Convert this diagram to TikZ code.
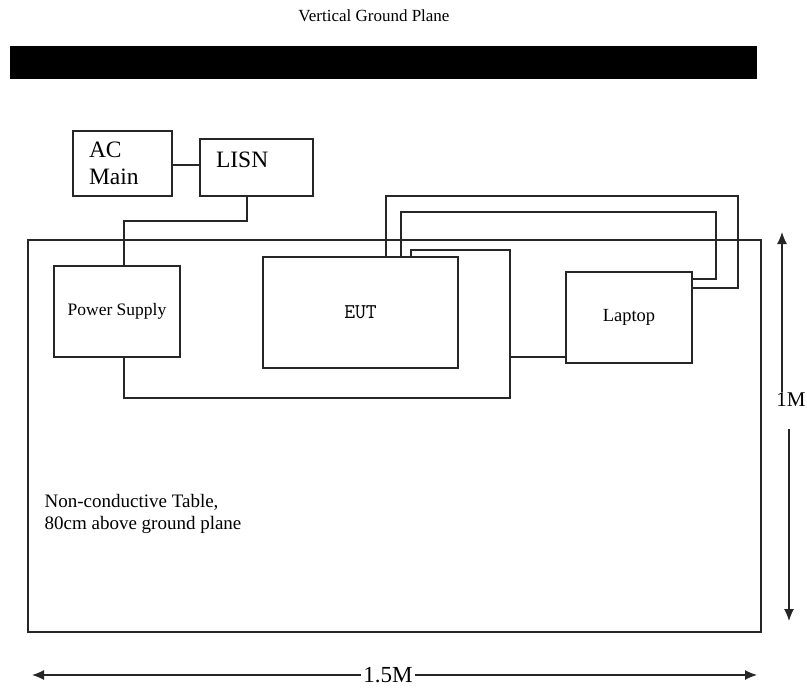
\documentclass[tikz,border=0pt]{standalone}
\usepackage{fontspec}
\setmainfont{Liberation Serif}
\usetikzlibrary{arrows.meta}

\begin{document}
\begin{tikzpicture}[x=1pt,y=-1pt,line width=1.2pt,draw=black!85,
  box/.style={rectangle,draw,inner sep=0pt},
  dimline/.style={-{Latex[length=12pt,width=10pt]}}]
\useasboundingbox (0,0) rectangle (807,688);
\coordinate (C1) at (738,196);
\coordinate (C2) at (716,212);
\coordinate (C3) at (510,398);
\coordinate (C4) at (510,250);
\coordinate (C5) at (510,357);
\coordinate (C6) at (124,221);
\coordinate (C7) at (172,165);
\coordinate (D1) at (782,232);
\coordinate (D2) at (789,621);
\coordinate (D3) at (32,675);
\coordinate (D4) at (757,675);


\node[font=\fontsize{17}{20}\selectfont] (title) at (374,16) {Vertical Ground Plane};
\node[fill=black,minimum width=747pt,minimum height=33pt,inner sep=0pt] (gp) at (383.5,62.5) {};
\node[box,minimum width=733pt,minimum height=392pt] (table) at (394.5,436) {};
\node[box,minimum width=99pt,minimum height=65pt,text width=67pt,align=left,font=\fontsize{23.5}{27}\selectfont] (acmain) at (122.5,163.5) {AC\\Main};
\node[box,minimum width=113pt,minimum height=57pt,text width=81pt,align=left,text depth=15pt,font=\fontsize{23.5}{27}\selectfont] (lisn) at (256.5,167.5) {LISN};
\node[box,minimum width=126pt,minimum height=91pt,font=\fontsize{17.5}{20}\selectfont] (psu) at (117,311.5) {Power Supply};
\node[box,minimum width=195pt,minimum height=111pt,font=\ttfamily\fontsize{21}{24}\selectfont] (eut) at (360.5,312.5) {EUT};
\node[box,minimum width=126pt,minimum height=91pt,font=\fontsize{18.5}{20}\selectfont] (laptop) at (629,317.5) {Laptop};
\node[anchor=west,align=left,inner sep=0pt,font=\fontsize{19}{22}\selectfont] (tabletext) at (44,514) {Non-conductive Table,\\80cm above ground plane};
\node[inner sep=0pt,font=\fontsize{21}{24}\selectfont] (onem) at (791,400) {1M};
\node[inner sep=2pt,font=\fontsize{23}{26}\selectfont] (onefive) at (388,675) {1.5M};

\draw (C7 -| acmain.east) -- (C7 -| lisn.west);
\draw ([xshift=-9.5pt]lisn.south) |- (C6) -- ([xshift=7pt]psu.north);
\draw ([xshift=7pt]psu.south) |- (C3) -- (C4) -| ([xshift=50.5pt]eut.north);
\draw (C5) -- (C5 -| laptop.west);
\draw ([xshift=25.5pt]eut.north) |- (C1) |- ([yshift=29.5pt]laptop.east);
\draw ([xshift=40.5pt]eut.north) |- (C2) |- ([yshift=38.5pt]laptop.east);
\draw[dimline] (onem.north -| D1) -- (D1);
\draw[dimline] (onem.south -| D2) ++(0,21) -- (D2);
\draw[dimline] (onefive.west) -- (D3);
\draw[dimline] (onefive.east) -- (D4);


\end{tikzpicture}
\end{document}
